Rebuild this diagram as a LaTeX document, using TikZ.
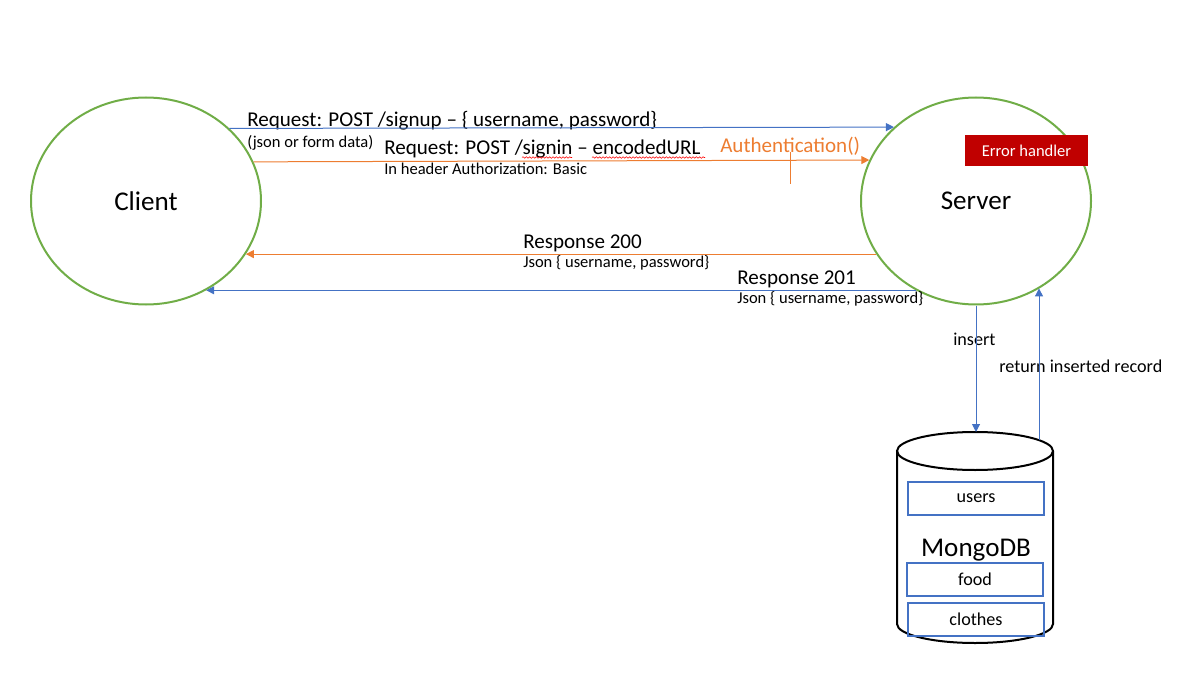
\documentclass[tikz,border=0pt]{standalone}
\usepackage{fontspec}
\setmainfont{Carlito}
\usetikzlibrary{arrows.meta,shapes.geometric,decorations.pathmorphing}

\definecolor{ublue}{HTML}{4472C4}
\definecolor{uorange}{HTML}{ED7D31}
\definecolor{ugreen}{HTML}{70AD47}
\definecolor{ured}{HTML}{C00000}
\newcommand{\bigtxt}{\fontsize{20.3}{24}\selectfont}
\newcommand{\midtxt}{\fontsize{15.8}{19}\selectfont}
\newcommand{\dbtxt}{\fontsize{13.6}{16}\selectfont}
\newcommand{\smalltxt}{\fontsize{12.4}{15}\selectfont}

\begin{document}
\begin{tikzpicture}[x=0.75pt,y=-0.75pt]
                \tikzstyle{ell}=[ellipse, draw=ugreen, line width=1.5pt, inner sep=0pt, minimum width=172.5pt, minimum height=155.25pt, font=\bigtxt]
                \tikzstyle{txt}=[anchor=base west, inner sep=0pt]
                \tikzstyle{coll}=[draw=ublue, line width=1.5pt, inner sep=0pt, minimum width=102pt, minimum height=24.75pt, font=\dbtxt]
                \tikzstyle{barrow}=[draw=ublue, line width=0.75pt, -{Triangle[length=6pt,width=6pt]}]
                \tikzstyle{oarrow}=[draw=uorange, line width=0.75pt, -{Triangle[length=6pt,width=6pt]}]
                \tikzstyle{squig}=[draw=red, line width=0.4pt, decorate, decoration={snake, amplitude=0.6pt, segment length=2.5pt}]

                \useasboundingbox (0,0) rectangle (1194,698);

                \node[ell] (client) at (146,201) {Client};
                \node[ell] (server) at (976,201) {Server};
                \node[fill=ured, text=white, inner sep=0pt, minimum width=92.25pt, minimum height=23.25pt, font=\smalltxt] (err) at (1026.5,150.5) {Error handler};

                % database
                \draw[line width=1.5pt, fill=white] (897,451) -- (897,624) arc[start angle=180, end angle=0, x radius=78, y radius=19] -- (1053,451);
                \draw[line width=1.5pt] (975,451) ellipse [x radius=78, y radius=19];
                \coordinate (dbtop) at (975,432);
                \coordinate (dbret) at (1039,440);
                \node[coll] (users) at (976,498.5) {users};
                \node[font=\bigtxt, anchor=base, inner sep=0pt] (mongo) at (976,556.7) {MongoDB};
                \node[coll] (food) at (975,579.5) {food};
                \node[coll] (clothes) at (976,619.5) {clothes};

                \node[txt, font=\midtxt] (signup) at (247,126.7) {Request: POST /signup – \{ username, password\}};
                \node[txt, font=\smalltxt] (signupnote) at (247,147.7) {(json or form data)};
                \node[txt, font=\midtxt] (signin) at (384,155) {Request: POST /signin – encodedURL};
                \node[txt, font=\smalltxt] (signinnote) at (384,175) {In header Authorization: Basic};
                \node[txt, font=\midtxt, text=uorange] (auth) at (720,152.3) {Authentication()};
                \node[txt, font=\midtxt] (resp200) at (523,248.5) {Response 200};
                \node[txt, font=\smalltxt] (resp200note) at (523,268) {Json \{ username, password\}};
                \node[txt, font=\midtxt] (resp201) at (737,284.5) {Response 201};
                \node[txt, font=\smalltxt] (resp201note) at (737,303) {Json \{ username, password\}};
                \node[txt, font=\dbtxt] (ins) at (953,345) {insert};
                \node[txt, font=\dbtxt] (ret) at (999,372.7) {return inserted record};

                \draw[barrow] (client.41.1) -- (server.138.9);
                \draw[oarrow] (client.20.4) -- (server.159.6);
                \draw[oarrow] (server.208.2) -- (client.-28.2);
                \draw[barrow] (server.236) -- (client.-56);
                \draw[barrow] (server.south) -- (server.south |- dbtop);
                \draw[barrow] (dbret) -- (dbret |- server.-54);

                \draw[uorange, line width=0.75pt] (790,152) -- (790,184);
                \draw[squig] (522,157.5) -- (572,157.5);
                \draw[squig] (592,157.5) -- (705,157.5);
            \end{tikzpicture}
\end{document}
